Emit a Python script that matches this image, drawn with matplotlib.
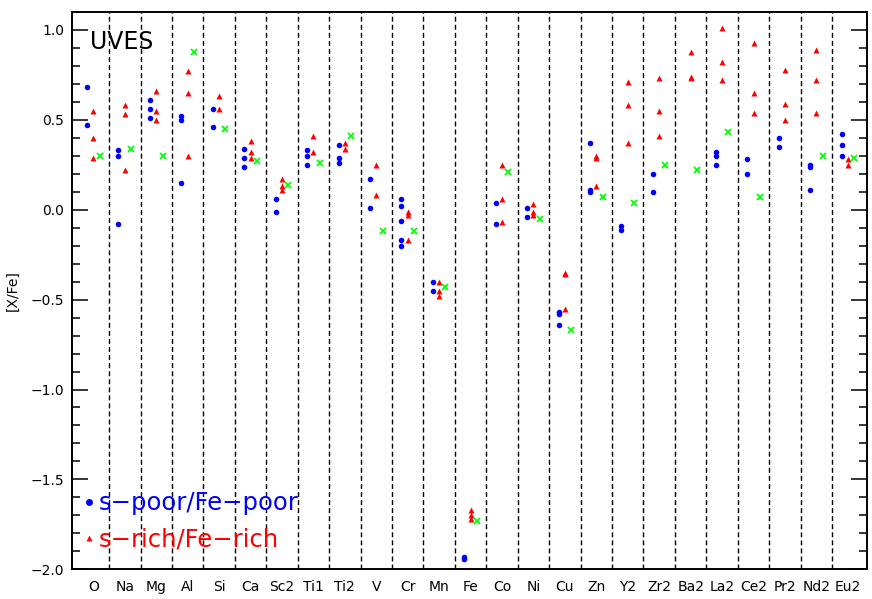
import numpy as np
import matplotlib
matplotlib.use("Agg")
import matplotlib.pyplot as plt
from matplotlib.lines import Line2D
from matplotlib.ticker import MultipleLocator

# element labels along the x axis
elements = ["O", "Na", "Mg", "Al", "Si", "Ca", "Sc2", "Ti1", "Ti2", "V", "Cr", "Mn",
            "Fe", "Co", "Ni", "Cu", "Zn", "Y2", "Zr2", "Ba2", "La2", "Ce2", "Pr2", "Nd2", "Eu2"]

# [X/Fe] for the s-poor/Fe-poor stars (blue)
poor = [
    [0.68, 0.47],
    [0.33, 0.30, -0.08],
    [0.61, 0.56, 0.51],
    [0.52, 0.50, 0.15],
    [0.56, 0.46],
    [0.34, 0.29, 0.24],
    [0.06, -0.01],
    [0.33, 0.30, 0.25],
    [0.36, 0.29, 0.26],
    [0.17, 0.01],
    [0.06, 0.02, -0.06, -0.17, -0.20],
    [-0.40, -0.45],
    [-1.93, -1.94],
    [0.04, -0.08],
    [0.01, -0.04],
    [-0.57, -0.58, -0.64],
    [0.37, 0.11, 0.10],
    [-0.09, -0.11],
    [0.20, 0.10],
    [],
    [0.32, 0.30, 0.25],
    [0.28, 0.20],
    [0.40, 0.35],
    [0.25, 0.24, 0.11],
    [0.42, 0.36, 0.30],
]

# [X/Fe] for the s-rich/Fe-rich stars (red)
rich = [
    [0.55, 0.40, 0.29],
    [0.58, 0.53, 0.22],
    [0.66, 0.55, 0.50],
    [0.77, 0.65, 0.30],
    [0.63, 0.56],
    [0.38, 0.32, 0.29],
    [0.17, 0.13, 0.11],
    [0.41, 0.32],
    [0.37, 0.34],
    [0.25, 0.08],
    [-0.01, -0.03, -0.17],
    [-0.40, -0.45, -0.48],
    [-1.67, -1.70, -1.72],
    [0.25, 0.06, -0.07],
    [0.03, -0.01, -0.03],
    [-0.35, -0.36, -0.55],
    [0.30, 0.29, 0.13],
    [0.71, 0.58, 0.37],
    [0.73, 0.55, 0.41],
    [0.88, 0.74, 0.73],
    [1.01, 0.82, 0.72],
    [0.93, 0.65, 0.54],
    [0.78, 0.59, 0.50],
    [0.89, 0.72, 0.54],
    [0.28, 0.25],
]

# third sample (green crosses), one value per element
other = [0.30, 0.34, 0.30, 0.88, 0.45, 0.27, 0.14, 0.26, 0.41, -0.12, -0.12, -0.43,
         -1.73, 0.21, -0.05, -0.67, 0.07, 0.04, 0.25, 0.22, 0.43, 0.07, np.nan, 0.30, 0.29]

pos = np.arange(1, len(elements) + 1)

fig = plt.figure(figsize=(8.72, 5.99), dpi=100)
ax = fig.add_axes([0.0829, 0.0496, 0.9110, 0.9304])

for k in range(1, len(elements)):
    ax.axvline(k + 0.5, color="black", lw=1.0, ls=(0, (3.6, 2.2)), zorder=1)

px = np.concatenate([np.full(len(v), p - 0.2) for p, v in zip(pos, poor)])
py = np.concatenate([np.array(v, dtype=float) for v in poor])
rx = np.concatenate([np.full(len(v), p) for p, v in zip(pos, rich)])
ry = np.concatenate([np.array(v, dtype=float) for v in rich])

ax.plot(px, py, "o", color="#0000ff", ms=4, mec="none", zorder=3)
ax.plot(rx, ry, "^", color="#ff0000", ms=4.5, mec="none", zorder=3)
ax.plot(pos + 0.2, other, "x", color="#00ff00", ms=4, mew=1.3, zorder=3)

ax.set_xlim(0.33, 25.6)
ax.set_ylim(-2.0, 1.1)
ax.set_xticks(pos)
ax.set_xticklabels(elements)
ax.yaxis.set_major_locator(MultipleLocator(0.5))
ax.yaxis.set_minor_locator(MultipleLocator(0.1))
ax.tick_params(axis="x", length=0, pad=8, labelsize=10)
ax.tick_params(axis="y", which="major", direction="in", length=11.5, width=1.1,
               left=True, right=True, labelsize=10, pad=6)
ax.tick_params(axis="y", which="minor", direction="in", length=5.8, width=1.1,
               left=True, right=True)
for s in ax.spines.values():
    s.set_linewidth(1.4)

ax.set_ylabel("[X/Fe]", fontsize=10, labelpad=8)

ax.text(0.022, 0.946, "UVES", transform=ax.transAxes, fontsize=17,
        va="center", ha="left")

handles = [
    Line2D([], [], ls="none", marker="o", color="#0000ff", ms=5, mec="none"),
    Line2D([], [], ls="none", marker="^", color="#ff0000", ms=5, mec="none"),
]
leg = ax.legend(handles, ["s\u2212poor/Fe\u2212poor", "s\u2212rich/Fe\u2212rich"],
                loc="lower left", bbox_to_anchor=(-0.006, 0.006), frameon=False,
                fontsize=17.5, handlelength=0.55, handletextpad=0.12,
                labelspacing=0.5, borderaxespad=0.2)
for t, c in zip(leg.get_texts(), ["#0000ff", "#ff0000"]):
    t.set_color(c)

fig.savefig("out.png", dpi=100)
